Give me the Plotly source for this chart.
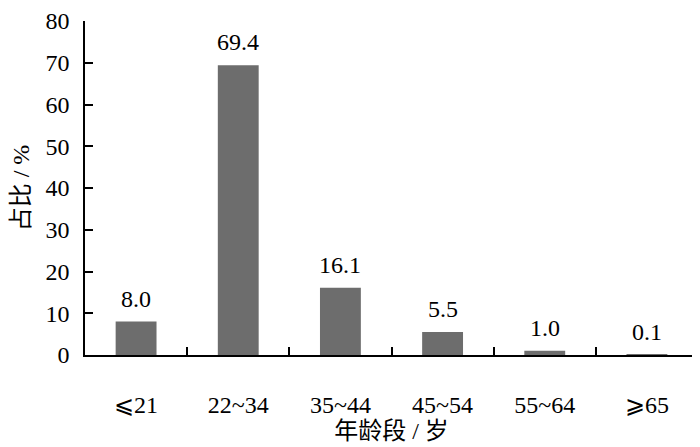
import plotly.graph_objects as go

# age groups and their share (%)
age_groups = ["⩽21", "22~34", "35~44", "45~54", "55~64", "⩾65"]
share = [8.0, 69.4, 16.1, 5.5, 1.0, 0.1]
y_ticks = [0, 10, 20, 30, 40, 50, 60, 70, 80]

FONT = "Liberation Serif, Times New Roman, Noto Sans CJK SC, serif"
FS = 24

fig = go.Figure(go.Bar(
    x=age_groups,
    y=share,
    marker_color="#6d6d6d",
    marker_line_width=0,
))

# value labels a bit above each bar
for g, v in zip(age_groups, share):
    fig.add_annotation(
        x=g, y=v, text=f"{v:.1f}",
        showarrow=False, yanchor="bottom", yshift=8,
        font=dict(family=FONT, size=FS, color="black"),
    )

# page body adds an 8px offset, so margins are shifted to compensate
fig.update_layout(
    width=700, height=447,
    margin=dict(l=77, r=10, t=13, b=100),
    paper_bgcolor="white",
    plot_bgcolor="white",
    bargap=0.6,
    showlegend=False,
    font=dict(family=FONT, size=FS, color="black"),
)

fig.update_xaxes(
    automargin=False,
    showline=True, linecolor="black", linewidth=1.5,
    ticks="inside", ticklen=8, tickwidth=1.5, tickcolor="black",
    tickson="boundaries",
    ticklabelstandoff=27,
    tickfont=dict(family=FONT, size=FS),
    title=dict(text="年龄段 / 岁", font=dict(family=FONT, size=FS), standoff=4),
    showgrid=False,
)

fig.update_yaxes(
    automargin=False,
    range=[0, 80],
    tickvals=y_ticks,
    showline=True, linecolor="black", linewidth=1.5,
    ticks="inside", ticklen=8, tickwidth=1.5, tickcolor="black",
    ticklabelstandoff=9,
    tickfont=dict(family=FONT, size=FS),
    title=dict(text="占比 / %", font=dict(family=FONT, size=FS), standoff=12),
    showgrid=False, zeroline=False,
)

fig.write_html("out.html")
